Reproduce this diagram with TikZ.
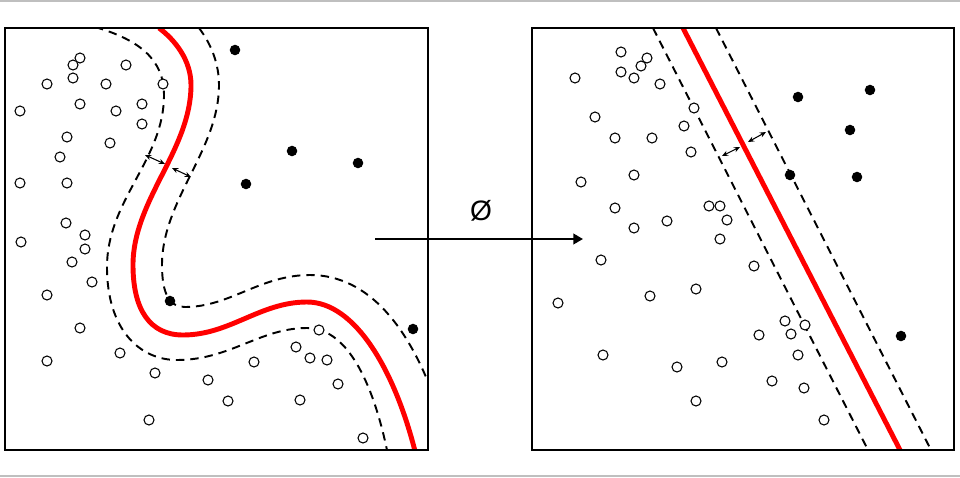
\documentclass[tikz,border=0pt]{standalone}
\usepackage{fontspec}
\setmainfont{Liberation Sans}
\usetikzlibrary{arrows.meta}

\begin{document}
\begin{tikzpicture}[x=0.02cm, y=-0.02cm,
        panel/.style={line width=1.6pt},
        margin/.style={line width=1.1pt, dash pattern=on 4.8pt off 3.4pt},
        boundary/.style={red, line width=2.8pt},
        gap/.style={{Stealth[length=3.5pt,width=3pt]}-{Stealth[length=3.5pt,width=3pt]}, line width=0.6pt},
        negdot/.style={draw, line width=0.6pt, fill=white},
        posdot/.style={fill=black}]
        \useasboundingbox (0,0) rectangle (960,477);
        \draw[gray!50, line width=0.6pt] (0,1) -- (960,1);
        \draw[gray!50, line width=0.6pt] (0,476) -- (960,476);

        % Input space: curved boundary
        \begin{scope}
            \clip (5,28) rectangle (428,450);
            \draw[margin] (95,27) .. controls (140,40) and (164,60) .. (164,95)
                .. controls (164,160) and (107,200) .. (107,267)
                .. controls (107,330) and (140,360) .. (177,360)
                .. controls (230,360) and (260,328) .. (307,328)
                .. controls (350,328) and (375,390) .. (388,455);
            \draw[margin] (199,28) .. controls (212,45) and (219,65) .. (219,85)
                .. controls (219,150) and (162,200) .. (162,265)
                .. controls (162,295) and (170,307) .. (185,307)
                .. controls (230,307) and (260,275) .. (310,275)
                .. controls (370,275) and (410,330) .. (435,400);
            \draw[boundary] (159,28) .. controls (175,40) and (191,60) .. (191,85)
                .. controls (191,150) and (133,200) .. (133,265)
                .. controls (133,310) and (150,335) .. (183,335)
                .. controls (230,335) and (260,302) .. (307,302)
                .. controls (355,302) and (395,370) .. (416,455);
        \end{scope}
        \draw[gap] (145,155) -- (165,164);
        \draw[gap] (172,168) -- (191,177);
        \foreach \x/\y in {80/58, 73/65, 126/65, 73/78, 47/84, 106/84, 163/84,
            20/111, 80/104, 116/111, 142/104, 142/124, 67/137, 110/143, 60/157,
            20/183, 67/183, 66/223, 85/235, 21/242, 85/249, 72/262, 92/282,
            47/295, 80/328, 47/361, 120/353, 155/373, 149/420, 208/380, 228/401,
            254/362, 296/347, 310/358, 327/360, 319/330, 338/384, 300/400, 363/438}
            \draw[negdot] (\x,\y) circle (2.85pt);
        \foreach \x/\y in {235/50, 292/151, 358/163, 246/184, 170/301, 413/329}
            \fill[posdot] (\x,\y) circle (3pt);
        \draw[panel] (5,28) rectangle (428,450);

        % Feature space: straight boundary
        \begin{scope}
            \clip (532,28) rectangle (954,450);
            \draw[margin] (653,28) -- (868,450);
            \draw[margin] (716,28) -- (931,450);
            \draw[boundary] (683,28) -- (900,450);
        \end{scope}
        \draw[gap] (722,156) -- (740,147);
        \draw[gap] (748,142) -- (766,132);
        \foreach \x/\y in {621/52, 647/58, 641/66, 621/72, 634/78, 575/78, 660/84,
            694/108, 595/117, 684/126, 615/138, 652/138, 691/152, 634/175, 581/182,
            615/208, 709/206, 720/206, 727/220, 667/221, 634/228, 720/239, 601/260,
            754/266, 696/289, 650/296, 558/303, 785/321, 805/325, 759/335, 791/334,
            798/355, 603/355, 722/362, 677/367, 772/381, 804/388, 696/401, 824/420}
            \draw[negdot] (\x,\y) circle (2.85pt);
        \foreach \x/\y in {798/97, 870/90, 850/130, 790/175, 857/177, 901/336}
            \fill[posdot] (\x,\y) circle (3pt);
        \draw[panel] (532,28) rectangle (954,450);

        % Mapping
        \coordinate (mapstart) at (375,239);
        \coordinate (mapend) at (583,239);
        \node (phi) at (481,211) {\fontsize{16}{18}\selectfont Ø};
        \draw[line width=1.3pt, -{Triangle[length=5.5pt,width=6pt]}] (mapstart) -- (mapend);
\end{tikzpicture}
\end{document}
